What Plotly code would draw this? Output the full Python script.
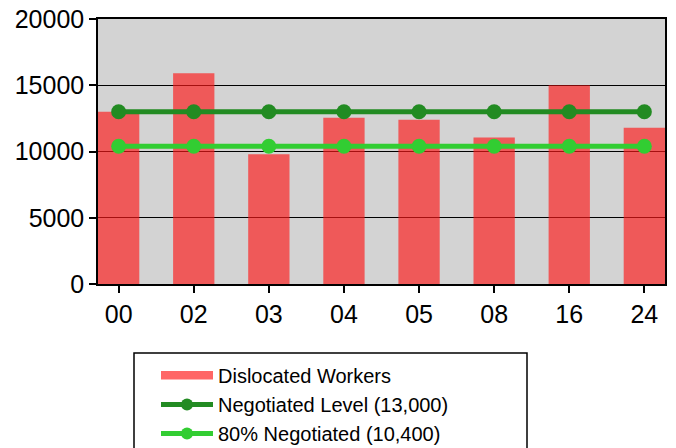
import plotly.graph_objects as go

categories = ["00", "02", "03", "04", "05", "08", "16", "24"]
dislocated = [13000, 15900, 9800, 12550, 12400, 11050, 15000, 11800]
negotiated = [13000] * 8
negotiated80 = [10400] * 8

W, H = 676, 448
ML, MR, MT, MB = 98, 11, 19, 164
pw, ph = W - ML - MR, H - MT - MB

fig = go.Figure()
# legend-only entry giving the wide swatch for the bars
fig.add_trace(go.Scatter(x=[None], y=[None], name="Dislocated Workers",
                         mode="lines", fill="toself", fillcolor="#FF6666",
                         line=dict(color="#FF6666", width=5),
                         hoverinfo="skip"))
fig.add_trace(go.Bar(x=categories, y=dislocated, name="Dislocated Workers",
                     marker=dict(color="rgb(255,25,25)", line=dict(width=0)),
                     opacity=0.65, width=0.55, showlegend=False))
fig.add_trace(go.Scatter(x=categories, y=negotiated, name="Negotiated Level (13,000)",
                         mode="lines+markers",
                         line=dict(color="#228B22", width=5),
                         marker=dict(color="#228B22", size=15)))
fig.add_trace(go.Scatter(x=categories, y=negotiated80, name="80% Negotiated (10,400)",
                         mode="lines+markers",
                         line=dict(color="#32CD32", width=5),
                         marker=dict(color="#32CD32", size=15)))

def px_x(p):
    return (p - ML) / pw
def px_y(p):
    return (H - MB - p) / ph

fig.add_shape(type="rect", xref="paper", yref="paper",
              x0=px_x(134), x1=px_x(527), y0=px_y(470), y1=px_y(353),
              line=dict(color="black", width=1.5), fillcolor="rgba(0,0,0,0)")

fig.update_layout(
    width=W, height=H,
    margin=dict(l=ML, r=MR, t=MT, b=MB, pad=0, autoexpand=False),
    paper_bgcolor="white", plot_bgcolor="#D3D3D3",
    font=dict(family="Liberation Sans, Arial, sans-serif", color="black"),
    showlegend=True,
    legend=dict(x=px_x(156), y=px_y(356), xanchor="left", yanchor="top",
                bgcolor="rgba(0,0,0,0)", borderwidth=0,
                font=dict(size=20, family="Liberation Sans, Arial, sans-serif"),
                itemwidth=52, itemsizing="constant",
                tracegroupgap=0, traceorder="normal"),
    xaxis=dict(type="category", range=[-0.275, 7.275], showgrid=False,
               ticks="outside", ticklen=7, tickwidth=1.5, tickcolor="black",
               showline=True, linecolor="black", linewidth=1.5, mirror=True,
               tickfont=dict(size=25), zeroline=False),
    yaxis=dict(range=[0, 20000], tickvals=[0, 5000, 10000, 15000, 20000],
               ticktext=["0", "5000", "10000", "15000", "20000"],
               showgrid=True, gridcolor="black", gridwidth=1,
               ticks="outside", ticklen=7, tickwidth=1.5, tickcolor="black",
               showline=True, linecolor="black", linewidth=1.5, mirror=True,
               tickfont=dict(size=25), zeroline=False),
)

fig.write_html("out.html", config={"displayModeBar": False},
               post_script="document.body.style.margin='0';document.body.style.padding='0';document.body.style.overflow='hidden';")
